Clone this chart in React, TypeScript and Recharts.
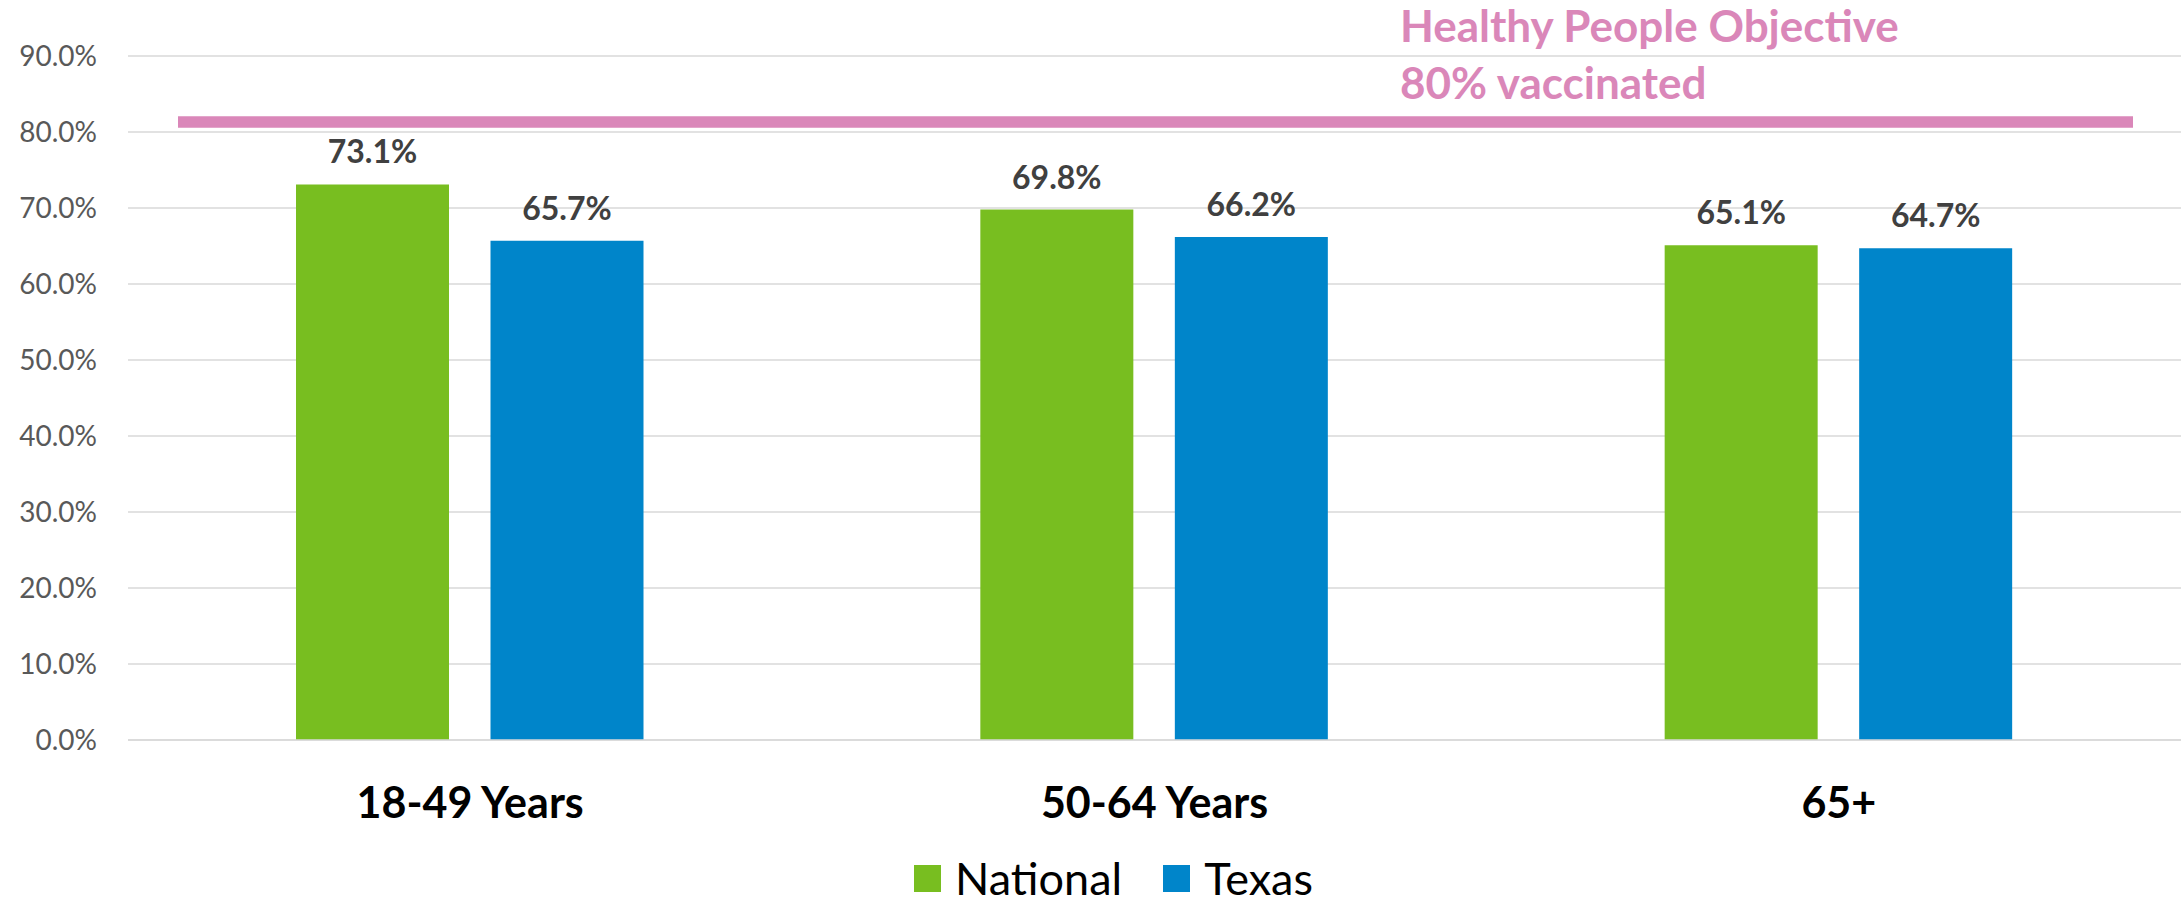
import React from 'react';
import { BarChart, Bar, XAxis, YAxis, CartesianGrid, Legend, LabelList, ReferenceLine } from 'recharts';

const ageGroups = ['18-49 Years', '50-64 Years', '65+'];
const nationalRates = [73.1, 69.8, 65.1];
const texasRates = [65.7, 66.2, 64.7];
const yTicks = [0, 10, 20, 30, 40, 50, 60, 70, 80, 90];
const objectiveLevel = 81.3;
const objectiveText = ['Healthy People Objective', '80% vaccinated'];

const GREEN = '#78BE20';
const BLUE = '#0085CA';
const PINK = '#DA87B9';
const GRID = '#D9D9D9';
const FONT = 'Lato, "Open Sans", sans-serif';

const chartData = ageGroups.map((group, i) => ({
  group,
  National: nationalRates[i],
  Texas: texasRates[i],
}));

const XTick = (props: any) => {
  const { x, y, payload } = props;
  return (
    <text x={x} y={y} dy={78} textAnchor="middle" fontFamily={FONT} fontWeight={700} fontSize={43} fill="#000">
      {payload.value}
    </text>
  );
};

const LegendContent = (props: any) => {
  const items = props.payload || [];
  return (
    <div
      style={{
        display: 'flex',
        justifyContent: 'center',
        alignItems: 'center',
        fontFamily: FONT,
        fontSize: 45,
        lineHeight: '42px',
        height: 42,
        color: '#000',
        paddingLeft: 46,
        paddingTop: 9,
      }}
    >
      {items.map((item: any, i: number) => (
        <div key={item.value} style={{ display: 'flex', alignItems: 'center', marginLeft: i === 0 ? 0 : 41 }}>
          <span style={{ display: 'inline-block', width: 27, height: 27, background: item.color, marginRight: 14 }} />
          <span>{item.value}</span>
        </div>
      ))}
    </div>
  );
};

const ObjectiveLine = (props: any) => {
  const { x1, x2, y1, y2 } = props;
  return <line x1={x1 + 50} x2={x2 - 48} y1={y1} y2={y2} stroke={PINK} strokeWidth={11.5} />;
};

const ObjectiveLabel = (props: any) => {
  const { viewBox } = props;
  const left = viewBox.x + 1272;
  return (
    <g fontFamily={FONT} fontWeight={700} fontSize={44} fill={PINK}>
      <text x={left} y={viewBox.y - 80}>{objectiveText[0]}</text>
      <text x={left} y={viewBox.y - 23}>{objectiveText[1]}</text>
    </g>
  );
};

export default function App() {
  return (
    <div style={{ position: 'absolute', left: 0, top: 0, background: '#fff' }}>
      <BarChart
        width={2181}
        height={903}
        data={chartData}
        margin={{ top: 56, right: 0, left: 0, bottom: 0 }}
        barSize={153}
        barGap={41.5}
      >
        <CartesianGrid vertical={false} stroke={GRID} strokeWidth={1.5} />
        <XAxis
          dataKey="group"
          height={108}
          tickLine={false}
          tickSize={0}
          tickMargin={0}
          axisLine={{ stroke: GRID, strokeWidth: 1.5 }}
          tick={<XTick />}
          interval={0}
        />
        <YAxis
          width={128}
          domain={[0, 90]}
          ticks={yTicks}
          axisLine={false}
          tickLine={false}
          tickSize={0}
          tickMargin={31}
          tickFormatter={(v: number) => `${v.toFixed(1)}%`}
          tick={{ fontFamily: FONT, fontSize: 28, fill: '#595959' }}
        />
        <Legend verticalAlign="bottom" height={55} content={<LegendContent />} />
        <ReferenceLine
          y={objectiveLevel}
          shape={ObjectiveLine}
          label={<ObjectiveLabel />}
          ifOverflow="extendDomain"
        />
        <Bar dataKey="National" fill={GREEN} isAnimationActive={false}>
          <LabelList
            dataKey="National"
            position="top"
            offset={21}
            formatter={(v: number) => `${v.toFixed(1)}%`}
            style={{ fontFamily: FONT, fontWeight: 700, fontSize: 32, fill: '#404040' }}
          />
        </Bar>
        <Bar dataKey="Texas" fill={BLUE} isAnimationActive={false}>
          <LabelList
            dataKey="Texas"
            position="top"
            offset={21}
            formatter={(v: number) => `${v.toFixed(1)}%`}
            style={{ fontFamily: FONT, fontWeight: 700, fontSize: 32, fill: '#404040' }}
          />
        </Bar>
      </BarChart>
    </div>
  );
}
